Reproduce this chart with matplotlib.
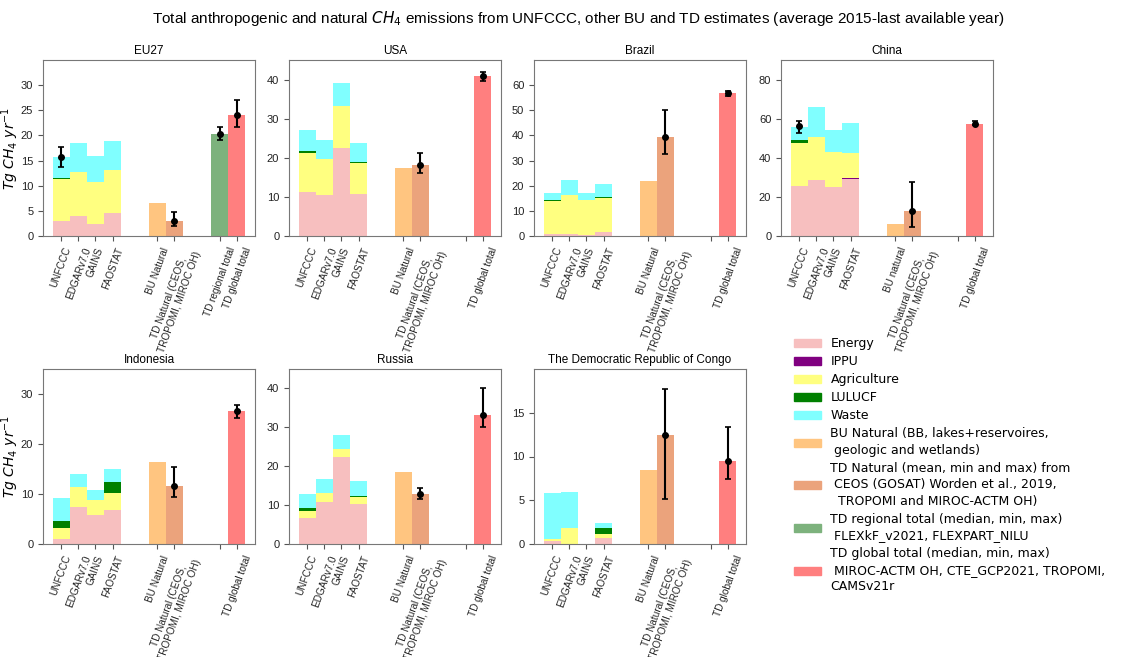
import numpy as np
import matplotlib
matplotlib.use("Agg")
import matplotlib.pyplot as plt
from matplotlib.patches import Patch

# order of the four inventories in every panel
inventories = ["UNFCCC", "EDGARv7.0", "GAINS", "FAOSTAT"]
countries = ["EU27", "USA", "Brazil", "China", "Indonesia", "Russia",
             "The Democratic Republic of Congo"]

# sector values (Tg CH4/yr), per country, for UNFCCC, EDGAR, GAINS, FAOSTAT
energy = {
    "EU27": [3.0, 3.9, 2.3, 4.5],
    "USA": [11.3, 10.4, 22.6, 10.7],
    "Brazil": [0.6, 0.8, 0.5, 1.6],
    "China": [25.6, 28.5, 25.1, 29.2],
    "Indonesia": [1.1, 7.4, 5.9, 6.8],
    "Russia": [6.8, 10.9, 22.3, 10.3],
    "The Democratic Republic of Congo": [0.4, 0.0, 0.0, 0.65],
}
ippu = {
    "EU27": [0, 0, 0, 0],
    "USA": [0, 0, 0, 0],
    "Brazil": [0, 0, 0, 0],
    "China": [0, 0, 0, 0.3],
    "Indonesia": [0, 0, 0, 0],
    "Russia": [0, 0, 0, 0],
    "The Democratic Republic of Congo": [0, 0, 0, 0],
}
agriculture = {
    "EU27": [8.3, 8.9, 8.5, 8.6],
    "USA": [10.0, 9.4, 10.7, 8.0],
    "Brazil": [13.4, 15.7, 13.8, 13.6],
    "China": [22.0, 22.2, 18.1, 13.1],
    "Indonesia": [2.1, 4.0, 3.0, 3.5],
    "Russia": [1.6, 2.2, 2.1, 1.9],
    "The Democratic Republic of Congo": [0.2, 1.8, 0.0, 0.55],
}
lulucf = {
    "EU27": [0.2, 0, 0, 0],
    "USA": [0.4, 0, 0, 0.1],
    "Brazil": [0.5, 0, 0, 0.4],
    "China": [1.5, 0, 0, 0],
    "Indonesia": [1.5, 0, 0, 2.1],
    "Russia": [0.9, 0, 0, 0.1],
    "The Democratic Republic of Congo": [0, 0, 0, 0.6],
}
waste = {
    "EU27": [4.2, 5.7, 5.1, 5.7],
    "USA": [5.3, 4.7, 5.8, 5.0],
    "Brazil": [2.7, 5.6, 2.9, 5.0],
    "China": [6.7, 15.5, 10.9, 15.2],
    "Indonesia": [4.6, 2.7, 1.9, 2.6],
    "Russia": [3.6, 3.6, 3.6, 3.8],
    "The Democratic Republic of Congo": [5.2, 4.2, 0.0, 0.6],
}

# UNFCCC total uncertainty (value, min, max), only where reported
unfccc_err = {"EU27": [15.7, 13.7, 17.7], "China": [56.1, 52.9, 59.0]}

bu_natural = {"EU27": 6.5, "USA": 17.5, "Brazil": 21.7, "China": 6.3,
              "Indonesia": 16.5, "Russia": 18.5,
              "The Democratic Republic of Congo": 8.5}
# mean, min, max
td_natural = {"EU27": [2.9, 2.0, 4.7], "USA": [18.2, 16.1, 21.2],
              "Brazil": [39.5, 32.5, 50.0], "China": [12.6, 4.6, 27.5],
              "Indonesia": [11.7, 9.5, 15.5], "Russia": [12.9, 11.6, 14.4],
              "The Democratic Republic of Congo": [12.45, 5.2, 17.7]}
# median, min, max
td_regional = {"EU27": [20.3, 19.0, 21.7]}
td_global = {"EU27": [24.0, 21.7, 27.0], "USA": [41.0, 39.7, 42.0],
             "Brazil": [56.7, 55.5, 57.8], "China": [57.5, 56.6, 58.7],
             "Indonesia": [26.6, 25.3, 27.9], "Russia": [33.3, 30.1, 40.0],
             "The Democratic Republic of Congo": [9.5, 7.4, 13.4]}

y_top = {"EU27": 35, "USA": 45, "Brazil": 70, "China": 90, "Indonesia": 35,
         "Russia": 45, "The Democratic Republic of Congo": 20}
y_step = {"EU27": 5, "USA": 10, "Brazil": 10, "China": 20, "Indonesia": 10,
          "Russia": 10, "The Democratic Republic of Congo": 5}

c_energy = "#f7bfbf"
c_ippu = "purple"
c_agri = "#ffff80"
c_lulucf = "green"
c_waste = "#80ffff"
c_bunat = "#ffc580"
c_tdnat = "#eba37c"
c_tdreg = "#7db27d"
c_tdglob = "#ff7f7f"

plt.rcParams["font.family"] = ["Liberation Sans", "DejaVu Sans"]
plt.rcParams["axes.edgecolor"] = "#777777"
plt.rcParams["xtick.color"] = "#555555"
plt.rcParams["ytick.color"] = "#555555"
plt.rcParams["xtick.labelcolor"] = "#222222"
plt.rcParams["ytick.labelcolor"] = "#222222"

fig = plt.figure(figsize=(11.22, 6.57), dpi=100)
W, H = 1122.0, 657.0

lefts = [43, 289, 534, 781]
ax_w = 212
rows = [(60, 236), (369, 544)]

xpos = np.array([0, 1, 2, 3, 5.6, 6.6, 9.25, 10.25])
errkw = dict(fmt="o", color="black", ms=4, elinewidth=1.5, capsize=2.5,
             capthick=1.2)

for i, name in enumerate(countries):
    r, c = divmod(i, 4)
    top, bot = rows[r]
    ax = fig.add_axes([lefts[c] / W, 1 - bot / H, ax_w / W, (bot - top) / H])

    x4 = xpos[:4]
    bottom = np.zeros(4)
    for vals, col in [(energy[name], c_energy), (ippu[name], c_ippu),
                      (agriculture[name], c_agri), (lulucf[name], c_lulucf),
                      (waste[name], c_waste)]:
        v = np.array(vals, dtype=float)
        ax.bar(x4, v, width=1.0, bottom=bottom, color=col, linewidth=0)
        bottom += v

    if name in unfccc_err:
        m, lo, hi = unfccc_err[name]
        ax.errorbar(xpos[0], m, yerr=[[m - lo], [hi - m]], **errkw)

    ax.bar(xpos[4], bu_natural[name], width=1.0, color=c_bunat, linewidth=0)
    m, lo, hi = td_natural[name]
    ax.bar(xpos[5], m, width=1.0, color=c_tdnat, linewidth=0)
    ax.errorbar(xpos[5], m, yerr=[[m - lo], [hi - m]], **errkw)

    if name in td_regional:
        m, lo, hi = td_regional[name]
        ax.bar(xpos[6], m, width=1.0, color=c_tdreg, linewidth=0)
        ax.errorbar(xpos[6], m, yerr=[[m - lo], [hi - m]], **errkw)

    m, lo, hi = td_global[name]
    ax.bar(xpos[7], m, width=1.0, color=c_tdglob, linewidth=0)
    ax.errorbar(xpos[7], m, yerr=[[m - lo], [hi - m]], **errkw)

    labels = inventories + ["BU natural" if name == "China" else "BU Natural",
                            "TD Natural (CEOS,\nTROPOMI, MIROC OH)",
                            "TD regional total" if name in td_regional else "",
                            "TD global total"]
    ax.set_xticks(xpos)
    ax.set_xticklabels(labels, rotation=70, ha="center", fontsize=7.2)
    ax.set_xlim(-1.06, 11.31)
    ax.set_ylim(0, y_top[name])
    ax.set_yticks(np.arange(0, y_top[name], y_step[name]))
    ax.tick_params(axis="y", labelsize=8)
    ax.set_title(name, fontsize=8.5, pad=4)
    if c == 0:
        ax.set_ylabel(r"$Tg\ CH_4\ yr^{-1}$", fontsize=10)
        ax.yaxis.set_label_coords(-0.105, 0.5)

fig.text(0.515, 0.972,
         r"Total anthropogenic and natural $CH_4$ emissions from UNFCCC, "
         "other BU and TD estimates (average 2015-last available year)",
         ha="center", va="center", fontsize=11)

handles = [Patch(color=c_energy), Patch(color=c_ippu), Patch(color=c_agri),
           Patch(color=c_lulucf), Patch(color=c_waste), Patch(color=c_bunat),
           Patch(color=c_tdnat), Patch(color=c_tdreg), Patch(color=c_tdglob)]
leg_labels = ["Energy", "IPPU", "Agriculture", "LULUCF", "Waste",
              "BU Natural (BB, lakes+reservoires,\n geologic and wetlands)",
              "TD Natural (mean, min and max) from\n CEOS (GOSAT) Worden et al., 2019,\n  TROPOMI and MIROC-ACTM OH)",
              "TD regional total (median, min, max)\n FLEXkF_v2021, FLEXPART_NILU",
              "TD global total (median, min, max)\n MIROC-ACTM OH, CTE_GCP2021, TROPOMI,\nCAMSv21r"]
leg = fig.legend(handles, leg_labels, loc="upper left",
                 bbox_to_anchor=(783 / W, 1 - 326 / H), frameon=False,
                 prop={"family": "DejaVu Sans", "size": 9},
                 handlelength=2.1, handleheight=0.6, labelspacing=0.4,
                 handletextpad=0.8)
for t in leg.get_texts():
    t.set_linespacing(1.35)

fig.savefig("out.png", dpi=100)
